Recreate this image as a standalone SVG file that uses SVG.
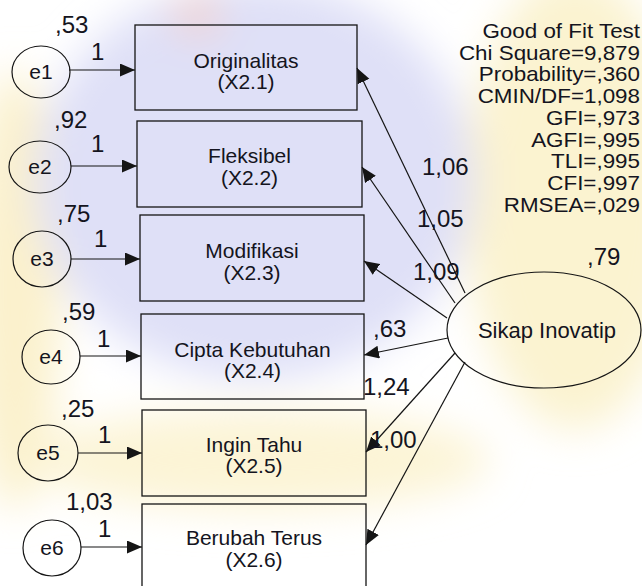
<svg xmlns="http://www.w3.org/2000/svg" width="642" height="586" viewBox="0 0 642 586">
<style>
text{font-family:"Liberation Sans",Arial,sans-serif;fill:#141420}
.box{fill:none;stroke:#151515;stroke-width:1.3}
.lat{fill:none;stroke:#151515;stroke-width:1.2}
.lbl{font-size:21px;text-anchor:middle}
.num{font-size:24px}
.gof{font-size:20px;text-anchor:end}
.con{stroke:#151515;stroke-width:1.2;fill:none;marker-end:url(#ah)}
</style>
<defs>
<marker id="ah" markerUnits="userSpaceOnUse" markerWidth="16" markerHeight="14" refX="15" refY="6.5" orient="auto">
<path d="M0,0 L15,6.5 L0,13 z" fill="#151515"/>
</marker>
<filter id="bl" x="-30%" y="-30%" width="160%" height="160%"><feGaussianBlur stdDeviation="20"/></filter>
</defs>
<rect width="642" height="586" fill="#ffffff"/>
<g id="watermark" filter="url(#bl)">
<ellipse cx="575" cy="200" rx="110" ry="230" fill="#fbf3d0"/>
<ellipse cx="15" cy="290" rx="45" ry="220" fill="#fbf1cc"/>
<ellipse cx="260" cy="460" rx="230" ry="50" fill="#fcf4d6"/>
<ellipse cx="255" cy="180" rx="220" ry="200" fill="#dfe0f7"/>
<ellipse cx="197" cy="15" rx="22" ry="20" fill="#f3cfc8"/>
</g>
<g id="connectors">
<line class="con" x1="69" y1="70" x2="135" y2="70"/>
<line class="con" x1="71" y1="166" x2="137" y2="166"/>
<line class="con" x1="71" y1="259" x2="140" y2="259"/>
<line class="con" x1="80" y1="356" x2="141" y2="356"/>
<line class="con" x1="78" y1="453" x2="142" y2="453"/>
<line class="con" x1="81" y1="547" x2="142" y2="547"/>
<line class="con" x1="465" y1="293" x2="357" y2="68"/>
<line class="con" x1="455" y1="303" x2="362" y2="167"/>
<line class="con" x1="447" y1="318" x2="364" y2="261"/>
<line class="con" x1="448" y1="338" x2="364" y2="355"/>
<line class="con" x1="455" y1="353" x2="366" y2="452"/>
<line class="con" x1="465" y1="362" x2="366" y2="545"/>
</g>
<g id="e1"><ellipse class="lat" cx="41" cy="72" rx="29" ry="26"/><text class="lbl" x="41" y="79">e1</text></g>
<g id="e2"><ellipse class="lat" cx="40" cy="167" rx="31" ry="26"/><text class="lbl" x="40" y="174">e2</text></g>
<g id="e3"><ellipse class="lat" cx="42" cy="259" rx="29" ry="28"/><text class="lbl" x="42" y="266">e3</text></g>
<g id="e4"><ellipse class="lat" cx="51" cy="357" rx="29" ry="27"/><text class="lbl" x="51" y="364">e4</text></g>
<g id="e5"><ellipse class="lat" cx="48" cy="453" rx="30" ry="28"/><text class="lbl" x="48" y="460">e5</text></g>
<g id="e6"><ellipse class="lat" cx="52" cy="548" rx="29" ry="28"/><text class="lbl" x="52" y="555">e6</text></g>
<g id="x21"><rect class="box" x="135" y="25" width="222" height="85"/><text class="lbl" x="246" y="68">Originalitas</text><text class="lbl" x="246" y="89">(X2.1)</text></g>
<g id="x22"><rect class="box" x="137" y="121" width="225" height="86"/><text class="lbl" x="249.5" y="163">Fleksibel</text><text class="lbl" x="249.5" y="185">(X2.2)</text></g>
<g id="x23"><rect class="box" x="140" y="215" width="224" height="86"/><text class="lbl" x="252" y="258">Modifikasi</text><text class="lbl" x="252" y="280">(X2.3)</text></g>
<g id="x24"><rect class="box" x="141" y="314" width="223" height="85"/><text class="lbl" x="252.5" y="357">Cipta Kebutuhan</text><text class="lbl" x="252.5" y="378">(X2.4)</text></g>
<g id="x25"><rect class="box" x="142" y="410" width="224" height="86"/><text class="lbl" x="254" y="452">Ingin Tahu</text><text class="lbl" x="254" y="473">(X2.5)</text></g>
<g id="x26"><rect class="box" x="142" y="504" width="224" height="90"/><text class="lbl" x="254" y="545">Berubah Terus</text><text class="lbl" x="254" y="567">(X2.6)</text></g>
<g id="sikap"><ellipse class="lat" cx="544" cy="330" rx="97" ry="58"/><text class="lbl" x="547" y="338" style="font-size:22px">Sikap Inovatip</text></g>
<g id="labels">
<text class="num" x="55" y="33">,53</text>
<text class="num" x="91" y="60">1</text>
<text class="num" x="54" y="128">,92</text>
<text class="num" x="91" y="152">1</text>
<text class="num" x="57" y="222">,75</text>
<text class="num" x="94" y="247">1</text>
<text class="num" x="62" y="320">,59</text>
<text class="num" x="97" y="347">1</text>
<text class="num" x="61" y="417">,25</text>
<text class="num" x="98" y="443">1</text>
<text class="num" x="66" y="510">1,03</text>
<text class="num" x="98" y="537">1</text>
<text class="num" x="422" y="175">1,06</text>
<text class="num" x="417" y="227">1,05</text>
<text class="num" x="413" y="280">1,09</text>
<text class="num" x="373" y="337">,63</text>
<text class="num" x="363" y="395">1,24</text>
<text class="num" x="370" y="448">1,00</text>
<text class="num" x="587" y="265">,79</text>
</g>
<g id="gof" transform="translate(640,0) scale(1.12,1)">
<text class="gof" x="0" y="38">Good of Fit Test</text>
<text class="gof" x="0" y="60">Chi Square=9,879</text>
<text class="gof" x="0" y="81.5">Probability=,360</text>
<text class="gof" x="0" y="103">CMIN/DF=1,098</text>
<text class="gof" x="0" y="125">GFI=,973</text>
<text class="gof" x="0" y="147">AGFI=,995</text>
<text class="gof" x="0" y="168.5">TLI=,995</text>
<text class="gof" x="0" y="190">CFI=,997</text>
<text class="gof" x="0" y="212">RMSEA=,029</text>
</g>
</svg>
